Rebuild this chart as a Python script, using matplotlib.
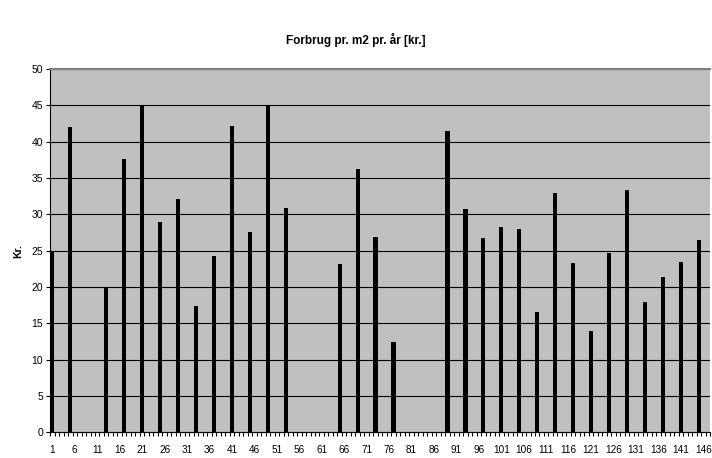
import matplotlib
matplotlib.use("Agg")
import matplotlib.pyplot as plt
import numpy as np

n_categories = 147
bar_positions = [1, 5, 13, 17, 21, 25, 29, 33, 37, 41, 45, 49, 53, 65, 69, 73, 77,
                 89, 93, 97, 101, 105, 109, 113, 117, 121, 125, 129, 133, 137, 141, 145]
bar_values = [24.9, 42.0, 19.8, 37.6, 45.0, 29.0, 32.1, 17.4, 24.2, 42.2, 27.6, 45.1, 30.9,
              23.1, 36.2, 26.9, 12.4, 41.5, 30.8, 26.7, 28.3, 28.0, 16.6, 33.0, 23.3,
              13.9, 24.7, 33.4, 17.9, 21.35, 23.5, 26.5]
tick_labels = [str(i) for i in range(1, n_categories + 1, 5)]
title = "Forbrug pr. m2 pr. år [kr.]"
ylabel = "Kr."

plt.rcParams['font.family'] = ['Liberation Sans', 'DejaVu Sans']

fig = plt.figure(figsize=(7.12, 4.58), dpi=100)
ax = fig.add_axes([50.1 / 712, 25.7 / 458, 660 / 712, 363.3 / 458])
ax.set_facecolor('#C0C0C0')

ax.bar(bar_positions, bar_values, width=0.95, color='black', zorder=3)

ax.set_xlim(0.5, n_categories + 0.5)
ax.set_ylim(0, 50)
ax.set_yticks(np.arange(0, 51, 5))
ax.yaxis.grid(True, color='black', linewidth=0.8, zorder=1)
ax.set_axisbelow(True)

ax.set_xticks(list(range(1, n_categories + 1, 5)))
ax.set_xticklabels(tick_labels, fontsize=7.2)
ax.set_xticks(np.arange(0.5, n_categories + 1, 1), minor=True)
ax.tick_params(axis='x', which='major', length=0, pad=9)
ax.tick_params(axis='x', which='minor', length=3, width=0.8, direction='out')
ax.tick_params(axis='y', which='major', length=3, width=0.8, direction='out', labelsize=7.5, pad=2)

ax.spines['right'].set_visible(False)
ax.spines['top'].set_color('#808080')
ax.spines['top'].set_linewidth(1.5)
ax.spines['left'].set_color('black')
ax.spines['bottom'].set_color('black')
ax.spines['left'].set_linewidth(0.8)
ax.spines['bottom'].set_linewidth(0.8)

ax.set_ylabel(ylabel, fontsize=7.5, fontweight='bold', labelpad=6)
fig.text(356 / 712, 1 - 40 / 458, title, ha='center', va='center', fontsize=8.5, fontweight='bold')

fig.savefig('out.png', dpi=100)
